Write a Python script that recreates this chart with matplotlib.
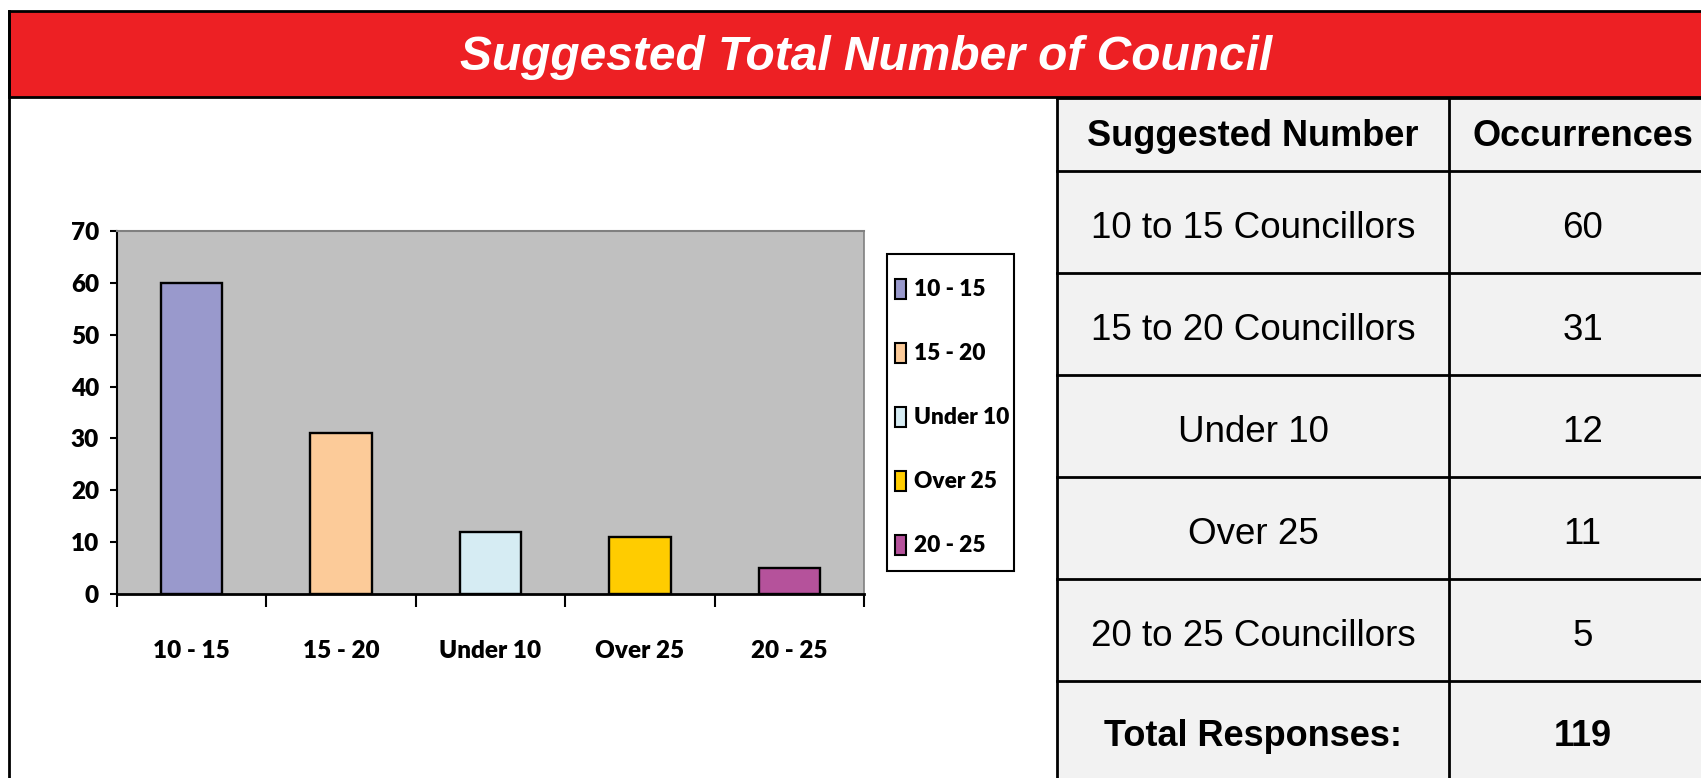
import matplotlib.pyplot as plt
from matplotlib.patches import Rectangle

# data
categories = ['10 - 15', '15 - 20', 'Under 10', 'Over 25', '20 - 25']
counts = [60, 31, 12, 11, 5]
bar_colors = ['#9999cc', '#fccb99', '#d6ecf3', '#ffcc00', '#b5529b']
yticks = [0, 10, 20, 30, 40, 50, 60, 70]

table_header = ['Suggested Number', 'Occurrences']
table_labels = ['10 to 15 Councillors', '15 to 20 Councillors', 'Under 10', 'Over 25', '20 to 25 Councillors']
table_counts = [60, 31, 12, 11, 5]
total_label = 'Total Responses:'
total_count = 119
title = 'Suggested Total Number of Council'

W, H = 1701, 778
chart_font = ['Lato', 'DejaVu Sans']
arial = ['Liberation Sans', 'DejaVu Sans']

fig = plt.figure(figsize=(W / 100, H / 100), dpi=100)
fig.patch.set_facecolor('white')

# background layer in pixel coordinates: title bar, borders, table, legend
bg = fig.add_axes([0, 0, 1, 1])
bg.set_xlim(0, W)
bg.set_ylim(H, 0)
bg.axis('off')

bg.add_patch(Rectangle((9, 11), W, 86, facecolor='#ed2024', edgecolor='black', linewidth=2))
bg.text(866, 57, title, color='white', fontsize=34.5, fontweight='bold', fontstyle='italic',
        family=arial, ha='center', va='center')
bg.plot([9, 9], [11, H + 5], color='black', linewidth=2)

# table
col_x = [1057, 1449, 1730]
row_y = [98, 171]
for i in range(len(table_labels) + 1):
    row_y.append(row_y[-1] + 102)
bg.add_patch(Rectangle((col_x[0], row_y[0]), col_x[-1] - col_x[0], row_y[-1] - row_y[0],
                       facecolor='#f2f2f2', edgecolor='none'))
for y in row_y:
    bg.plot([col_x[0], col_x[-1]], [y, y], color='black', linewidth=2)
for x in col_x:
    bg.plot([x, x], [row_y[0], row_y[-1]], color='black', linewidth=2)

c1 = (col_x[0] + col_x[1]) / 2
c2 = (col_x[1] + col_x[2]) / 2 - 7
ymid = (row_y[0] + row_y[1]) / 2 + 2
bg.text(c1, ymid, table_header[0], fontsize=26, fontweight='bold', family=arial, ha='center', va='center')
bg.text(c2, ymid, table_header[1], fontsize=26, fontweight='bold', family=arial, ha='center', va='center')
for i, (lab, n) in enumerate(zip(table_labels, table_counts)):
    ymid = (row_y[i + 1] + row_y[i + 2]) / 2 + 6
    bg.text(c1, ymid, lab, fontsize=26.5, family=arial, ha='center', va='center')
    bg.text(c2, ymid, str(n), fontsize=26.5, family=arial, ha='center', va='center')
ymid = row_y[-2] + 55
bg.text(c1, ymid, total_label, fontsize=26, fontweight='bold', family=arial, ha='center', va='center')
bg.text(c2, ymid, str(total_count), fontsize=26, fontweight='bold', family=arial, ha='center', va='center')

# legend box
bg.add_patch(Rectangle((887, 254), 127, 317, facecolor='white', edgecolor='black', linewidth=1.5))
for i, (cat, col) in enumerate(zip(categories, bar_colors)):
    yc = 289 + 64 * i
    bg.add_patch(Rectangle((895, yc - 10), 11, 20, facecolor=col, edgecolor='black', linewidth=1.5))
    bg.text(914, yc, cat, fontsize=16.3, fontweight='heavy', family=chart_font, ha='left', va='center')

# bar chart
ax = fig.add_axes([117 / W, 1 - 594 / H, (864 - 117) / W, (594 - 231) / H])
ax.set_facecolor('#c0c0c0')
x = list(range(len(categories)))
ax.bar(x, counts, width=0.41, color=bar_colors, edgecolor='black', linewidth=1.7, zorder=3)
ax.set_xlim(-0.5, len(categories) - 0.5)
ax.set_ylim(0, 70)
ax.set_yticks(yticks)
ax.set_xticks([i - 0.5 for i in range(len(categories) + 1)])
ax.set_xticklabels([])
ax.set_xticks(x, minor=True)
ax.set_xticklabels(categories, minor=True)
ax.tick_params(axis='x', which='major', direction='out', length=9, width=1.5)
ax.tick_params(axis='x', which='minor', length=0, pad=33)
ax.tick_params(axis='y', direction='out', length=5, width=1.5, pad=8)
for lab in ax.get_xticklabels(minor=True) + ax.get_yticklabels():
    lab.set_family(chart_font)
    lab.set_fontweight('heavy')
    lab.set_fontsize(17.5)
ax.spines['left'].set_linewidth(1.5)
ax.spines['bottom'].set_linewidth(2)
ax.spines['top'].set_color('#808080')
ax.spines['right'].set_color('#808080')
ax.spines['top'].set_linewidth(1.5)
ax.spines['right'].set_linewidth(1.2)

fig.savefig('out.png', dpi=100)
